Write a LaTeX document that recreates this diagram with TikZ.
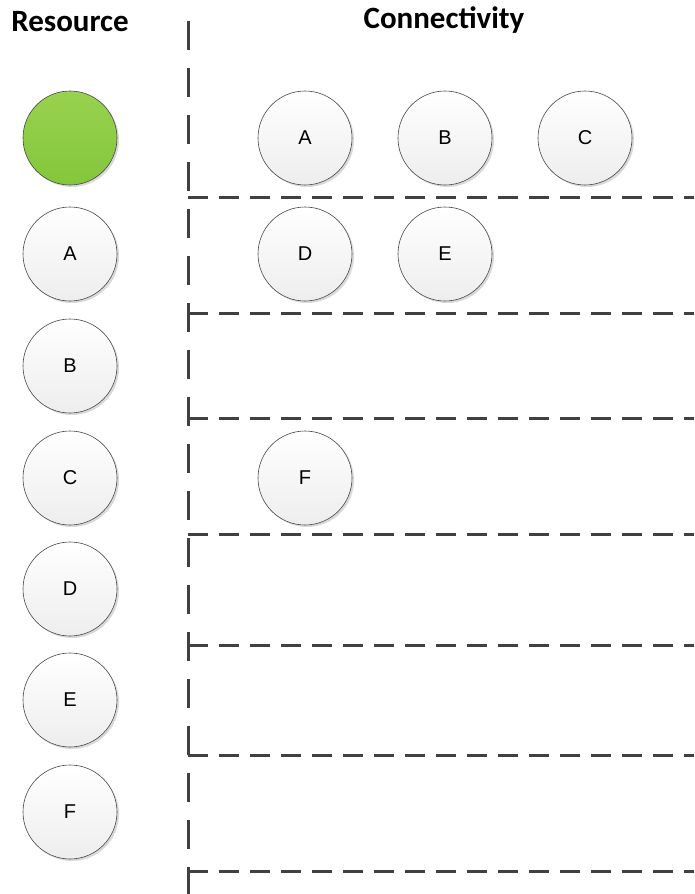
\documentclass[tikz,border=0pt]{standalone}
\usepackage{fontspec}
\setmainfont{Liberation Sans}
\newfontfamily\titlefont{Carlito}
\newfontfamily\labelfont{Liberation Sans}
\usetikzlibrary{shadows}
\definecolor{linegray}{RGB}{64,64,64}
\definecolor{circedge}{RGB}{70,70,70}
\definecolor{greentop}{RGB}{152,210,80}
\definecolor{greenbot}{RGB}{132,198,60}
\tikzset{
  x={1pt}, y={-1pt},
  res/.style={circle, minimum size=94pt, inner sep=0pt, draw=circedge, line width=0.6pt,
    top color=white, bottom color=black!7, font=\labelfont\fontsize{20pt}{22pt}\selectfont,
    drop shadow={shadow xshift=2pt, shadow yshift=-2pt, opacity=0.15, fill=black}},
  greenres/.style={res, top color=greentop, bottom color=greenbot},
  title/.style={font=\titlefont\bfseries\fontsize{31}{32}\selectfont, inner sep=0pt},
  vsep/.style={linegray, line width=3pt, dash pattern=on 29pt off 18pt},
  hsep/.style={linegray, line width=3pt, dash pattern=on 20pt off 11pt},
}
\begin{document}
\begin{tikzpicture}
\useasboundingbox (0,0) rectangle (694,894);
\fill[white] (0,0) rectangle (694,894);
\node[title] (tres) at (70,22) {Resource};
\node[title] (tcon) at (444,20) {Connectivity};
\coordinate (vtop) at (188,21);
\coordinate (vbot) at (188,894);
\draw[vsep] (vtop) -- (vbot);
\foreach \yy/\nm in {197/h1,313/h2,418/h3,534/h4,645/h5,755/h6,871/h7}{
  \coordinate (\nm a) at (188,\yy);
  \coordinate (\nm b) at (694,\yy);
  \draw[hsep] (\nm a) -- (\nm b);
}
\node[greenres] (g) at (70,138) {};
\node[res] (lA) at (70,254) {A};
\node[res] (lB) at (70,366) {B};
\node[res] (lC) at (70,478) {C};
\node[res] (lD) at (70,589) {D};
\node[res] (lE) at (70,700) {E};
\node[res] (lF) at (70,812) {F};
\node[res] (rA) at (305,138) {A};
\node[res] (rB) at (445,138) {B};
\node[res] (rC) at (585,138) {C};
\node[res] (rD) at (305,254) {D};
\node[res] (rE) at (445,254) {E};
\node[res] (rF) at (305,478) {F};
\end{tikzpicture}
\end{document}
